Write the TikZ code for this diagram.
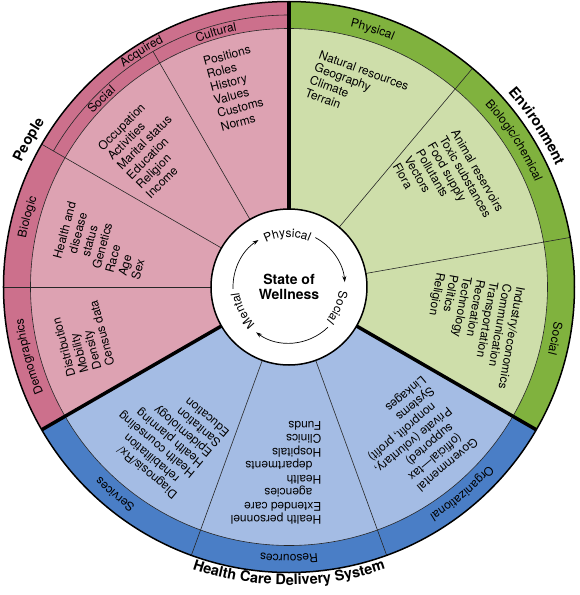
\documentclass[tikz,border=0pt]{standalone}
\usepackage{fontspec}
\setmainfont{TeX Gyre Heros}
\usetikzlibrary{decorations.text,arrows.meta}

\definecolor{pplband}{RGB}{204,112,140}
\definecolor{pplfill}{RGB}{221,162,178}
\definecolor{envband}{RGB}{128,178,62}
\definecolor{envfill}{RGB}{206,222,170}
\definecolor{hcdband}{RGB}{74,126,198}
\definecolor{hcdfill}{RGB}{164,188,228}

\def\sector[#1](#2:#3:#4){\fill[#1] (0,0) -- (#2:#4) arc (#2:#3:#4) -- cycle;}
\def\spoke[#1](#2:#3:#4){\draw[#1] (#2:#3) -- (#2:#4);}
\newcommand\listfont{\fontsize{12}{13.5}\selectfont}
\newcommand\bandfont{\fontsize{12}{14}\selectfont}
\newcommand\headfont{\fontsize{14.5}{16}\selectfont\bfseries}
\newcommand\cont{\hspace*{9pt}}

\tikzset{
  itemlist/.style={align=left, inner sep=0pt, font=\listfont},
  bandtext/.style={decorate, decoration={text along path, text align=center, text={|\bandfont|#1}}},
  headtext/.style={decorate, decoration={text along path, text align=center, text={|\headfont|#1}}},
  divider/.style={line width=3.5pt},
  thinline/.style={line width=0.6pt, color=black!85},
  ringarrow/.style={line width=0.7pt, -{Stealth[length=6pt,width=4pt]}},
}

\begin{document}
\begin{tikzpicture}[x=1pt,y=1pt]
	%%%%% START %%%%%
	\useasboundingbox (-289,-308) rectangle (290,287);
	
	% three sectors: band first, then the lighter inside
	\sector[pplband](90:210:285.5)
	\sector[pplfill](90:210:258.5)
	\sector[envband](-30:90:285.5)
	\sector[envfill](-30:90:258.5)
	\sector[hcdband](210:330:285.5)
	\sector[hcdfill](210:330:258.5)
	
	\draw[thinline] (0,0) circle (258.5);
	\draw[thinline] (90:272) arc (90:150:272);
	
	\spoke[thinline](120:78:272)
	\spoke[thinline](150:78:285.5)
	\spoke[thinline](180:78:285.5)
	\spoke[thinline](50:78:285.5)
	\spoke[thinline](10:78:285.5)
	\spoke[thinline](250:78:285.5)
	\spoke[thinline](290:78:285.5)
	
	\spoke[divider](90:78:285.5)
	\spoke[divider](210:78:285.5)
	\spoke[divider](330:78:285.5)
	
	\draw[line width=1.5pt] (0,0) circle (285.5);
	\draw[fill=white, line width=1.5pt] (0,0) circle (78);
	
	% band labels
	\path[bandtext=Acquired] (147:275) arc (147:97:275);
	\path[bandtext=Cultural] (131:261.5) arc (131:81:261.5);
	\path[bandtext=Social] (160:261.5) arc (160:110:261.5);
	\path[bandtext=Biologic] (190:267.5) arc (190:140:267.5);
	\path[bandtext=Demographics] (220:267.5) arc (220:170:267.5);
	\path[bandtext=Physical] (97:267.5) arc (97:47:267.5);
	\path[bandtext=Biologic/chemical] (63:267.5) arc (63:3:267.5);
	\path[bandtext=Social] (14:267.5) arc (14:-36:267.5);
	\path[bandtext=Services] (255:267.5) arc (255:205:267.5);
	\path[bandtext=Resources] (295:267.5) arc (295:245:267.5);
	\path[bandtext=Organizational] (335:267.5) arc (335:285:267.5);
	
	% outside titles
	\path[headtext=People] (175:295) arc (175:126:295);
	\path[headtext=Environment] (63:293) arc (63:3:293);
	\path[headtext=Health Care Delivery System] (232:298) arc (232:308:298);
	
	% lists
	\node[itemlist, rotate=15] (cultural) at (105:206) {Positions\\Roles\\History\\Values\\Customs\\Norms};
	\node[itemlist, rotate=45] (social) at (135:198) {Occupation\\Activities\\Marital status\\Education\\Religion\\Income};
	\node[itemlist, rotate=75] (biologic) at (166:191) {Health and\\\cont disease\\\cont status\\Genetics\\Race\\Age\\Sex};
	\node[itemlist, rotate=105] (demographics) at (194:213) {Distribution\\Mobility\\Density\\Census data};
	
	\node[itemlist, rotate=-20] (physical) at (71:209) {Natural resources\\Geography\\Climate\\Terrain};
	\node[itemlist, rotate=-60] (biochem) at (32:188) {Animal reservoirs\\Toxic substances\\Food supply\\Pollutants\\Vectors\\Flora};
	\node[itemlist, rotate=-100] (envsocial) at (-13.5:187) {Industry/economics\\Communication\\Transportation\\Recreation\\Technology\\Politics\\Religion};
	
	\node[itemlist, rotate=140] (services) at (230:193) {Diagnosis/Rx/\\\cont rehabilitation\\Health counseling\\Health planning\\Epidemiology\\Sanitation\\Education};
	\node[itemlist, rotate=180] (resources) at (266:186) {Health personnel\\Extended care\\\cont agencies\\Health\\\cont departments\\Hospitals\\Clinics\\Funds};
	\node[itemlist, rotate=220] (organizational) at (-51:197) {Governmental\\\cont (official—tax\\\cont supported)\\Private (voluntary,\\\cont nonprofit, profit)\\Systems\\Linkages};
	
	% centre
	\node[align=center, font=\fontsize{14}{15}\selectfont\bfseries] (wellness) at (0,0) {State of\\Wellness};
	\draw[ringarrow] (62:56) arc (62:5:56);
	\draw[ringarrow] (-46:56) arc (-46:-126:56);
	\draw[ringarrow] (182:56) arc (182:123:56);
	\path[bandtext=Physical] (132:50) arc (132:52:50);
	\path[bandtext=Social] (17:50) arc (17:-63:50);
	\path[bandtext=Mental] (247:50) arc (247:167:50);
	%%%%% END %%%%%
\end{tikzpicture}
\end{document}
